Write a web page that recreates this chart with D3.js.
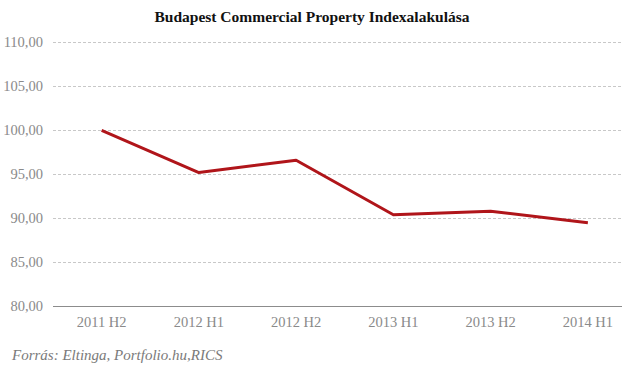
<!DOCTYPE html>
<html lang="hu">
<head>
  <meta charset="UTF-8">
  <title>Budapest Commercial Property Index</title>
  <script src="https://d3js.org/d3.v7.min.js"></script>
  <style>
    body { margin: 0; background: #fff; }
    text { font-family: "Liberation Serif", "DejaVu Serif", serif; }
  </style>
</head>
<body>
  <div id="chart"></div>
  <script>
    // data
    const periods = ["2011 H2", "2012 H1", "2012 H2", "2013 H1", "2013 H2", "2014 H1"];
    const indexValues = [100.0, 95.2, 96.6, 90.4, 90.8, 89.5];
    const yTicks = [80, 85, 90, 95, 100, 105, 110];

    const width = 622, height = 372;
    const left = 53, gridRight = 622;

    const svg = d3.select("#chart").append("svg")
      .attr("width", width)
      .attr("height", height);

    const x = d3.scaleBand()
      .domain(periods)
      .range([53, 636.5]);

    const y = d3.scaleLinear()
      .domain([80, 110])
      .range([306.3, 42.3]);

    const fmt = v => d3.format(".2f")(v).replace(".", ",");

    // title
    svg.append("text")
      .attr("x", 312)
      .attr("y", 22)
      .attr("text-anchor", "middle")
      .attr("font-size", 15.5)
      .attr("font-weight", "bold")
      .attr("fill", "#111")
      .text("Budapest Commercial Property Indexalakulása");

    // gridlines, dashed
    svg.append("g")
      .selectAll("line")
      .data(yTicks.filter(t => t !== 80))
      .join("line")
      .attr("x1", left)
      .attr("x2", gridRight)
      .attr("y1", d => Math.round(y(d)) + 0.5)
      .attr("y2", d => Math.round(y(d)) + 0.5)
      .attr("stroke", "#c8c8c8")
      .attr("stroke-dasharray", "3,2");

    // y axis labels
    const yAxis = svg.append("g")
      .attr("transform", `translate(${left},0)`)
      .call(d3.axisLeft(y).tickValues(yTicks).tickFormat(fmt).tickSize(0).tickPadding(10));
    yAxis.select(".domain").remove();
    yAxis.selectAll("text")
      .attr("font-size", 14.5)
      .attr("fill", "#8a8a8a")
      .style("font-family", "'Liberation Serif', serif");

    // base axis
    svg.append("line")
      .attr("x1", left)
      .attr("x2", gridRight)
      .attr("y1", Math.round(y(80)) + 0.5)
      .attr("y2", Math.round(y(80)) + 0.5)
      .attr("stroke", "#8c8c8c")
      .attr("stroke-width", 1.2);

    // x axis labels
    const xAxis = svg.append("g")
      .attr("transform", `translate(0,${y(80)})`)
      .call(d3.axisBottom(x).tickSize(0).tickPadding(10));
    xAxis.select(".domain").remove();
    xAxis.selectAll("text")
      .attr("font-size", 14.5)
      .attr("fill", "#8a8a8a")
      .style("font-family", "'Liberation Serif', serif");

    // line
    const line = d3.line()
      .x((d, i) => x(periods[i]) + x.bandwidth() / 2)
      .y(d => y(d));

    svg.append("path")
      .datum(indexValues)
      .attr("d", line)
      .attr("fill", "none")
      .attr("stroke", "#b0151a")
      .attr("stroke-width", 3)
      .attr("stroke-linejoin", "round");

    // source
    svg.append("text")
      .attr("x", 12)
      .attr("y", 360)
      .attr("font-size", 15)
      .attr("font-style", "italic")
      .attr("fill", "#7a7a7a")
      .text("Forrás: Eltinga, Portfolio.hu,RICS");
  </script>
</body>
</html>
